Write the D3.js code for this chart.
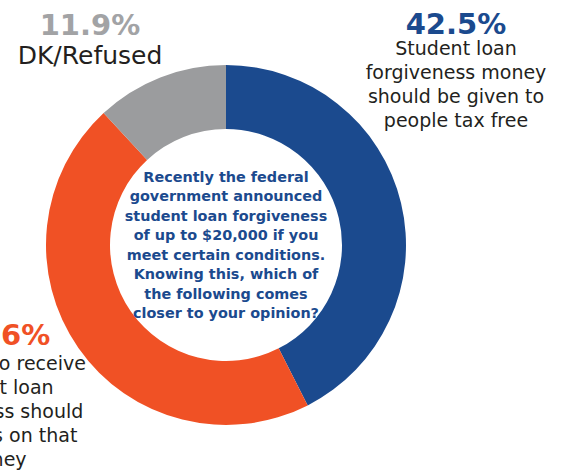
<!DOCTYPE html>
<html>
<head>
<meta charset="utf-8">
<script src="https://cdn.jsdelivr.net/npm/d3@7"></script>
<style>
  html, body { margin: 0; padding: 0; background: #ffffff; }
  svg { display: block; }
  text { font-family: "DejaVu Sans", "Open Sans", sans-serif; }
</style>
</head>
<body>
<svg id="chart" width="564" height="472"></svg>
<script>
// Survey answers, in drawing order (clockwise from 12 o'clock)
const categories = [
  "Student loan forgiveness money should be given to people tax free",
  "People who receive student loan forgiveness should pay taxes on that money",
  "DK/Refused"
];
const values = [42.5, 45.6, 11.9];

// Label text broken into display lines
const labelLines = [
  ["Student loan", "forgiveness money", "should be given to", "people tax free"],
  ["People who receive", "student loan", "forgiveness should", "pay taxes on that", "money"],
  ["DK/Refused"]
];

// Question shown in the hole of the donut
const questionLines = [
  "Recently the federal",
  "government announced",
  "student loan forgiveness",
  "of up to $20,000 if you",
  "meet certain conditions.",
  "Knowing this, which of",
  "the following comes",
  "closer to your opinion?"
];

const svg = d3.select("#chart");
const cx = 226, cy = 245;
const outerR = 180, innerR = 116;

const color = d3.scaleOrdinal()
  .domain(categories)
  .range(["#1b4a8e", "#f05125", "#9b9c9e"]);
const pctColor = d3.scaleOrdinal()
  .domain(categories)
  .range(["#1b4a8e", "#f05125", "#a2a3a5"]);

const pie = d3.pie().sort(null).value(d => d.value);
const arc = d3.arc().innerRadius(innerR).outerRadius(outerR);

const data = categories.map((c, i) => ({ category: c, value: values[i], lines: labelLines[i] }));

const g = svg.append("g").attr("transform", `translate(${cx},${cy})`);
g.selectAll("path.slice")
  .data(pie(data))
  .join("path")
  .attr("class", "slice")
  .attr("d", arc)
  .attr("fill", d => color(d.data.category));

// Question text in the centre
const qPitch = 19.45;
const q = g.append("text")
  .attr("text-anchor", "middle")
  .attr("fill", "#1b4a8e")
  .attr("font-weight", "bold")
  .attr("font-size", 14.4);
q.selectAll("tspan")
  .data(questionLines)
  .join("tspan")
  .attr("x", 0)
  .attr("y", (d, i) => -63 + i * qPitch)
  .text(d => d);

// Outside labels: percentage on top, description lines below
const fmt = d3.format(".1f");
const labelPos = [
  { px: 456, x: 456, y: 34, lineStart: 55, size: 19, pitch: 24 },
  { px: 0, x: -6, y: 345, lineStart: 370, size: 19, pitch: 24 },
  { px: 90, x: 90, y: 35, lineStart: 64, size: 25, pitch: 24 }
];

const labels = svg.selectAll("g.label")
  .data(data)
  .join("g")
  .attr("class", "label");

labels.append("text")
  .attr("x", (d, i) => labelPos[i].px)
  .attr("y", (d, i) => labelPos[i].y)
  .attr("text-anchor", "middle")
  .attr("font-weight", "bold")
  .attr("font-size", 29)
  .attr("fill", d => pctColor(d.category))
  .text(d => fmt(d.value) + "%");

labels.each(function(d, i) {
  const p = labelPos[i];
  d3.select(this).append("text")
    .attr("text-anchor", "middle")
    .attr("font-size", p.size)
    .attr("fill", "#231f20")
    .selectAll("tspan")
    .data(d.lines)
    .join("tspan")
    .attr("x", p.x)
    .attr("y", (l, j) => p.lineStart + j * p.pitch)
    .text(l => l);
});
</script>
</body>
</html>
